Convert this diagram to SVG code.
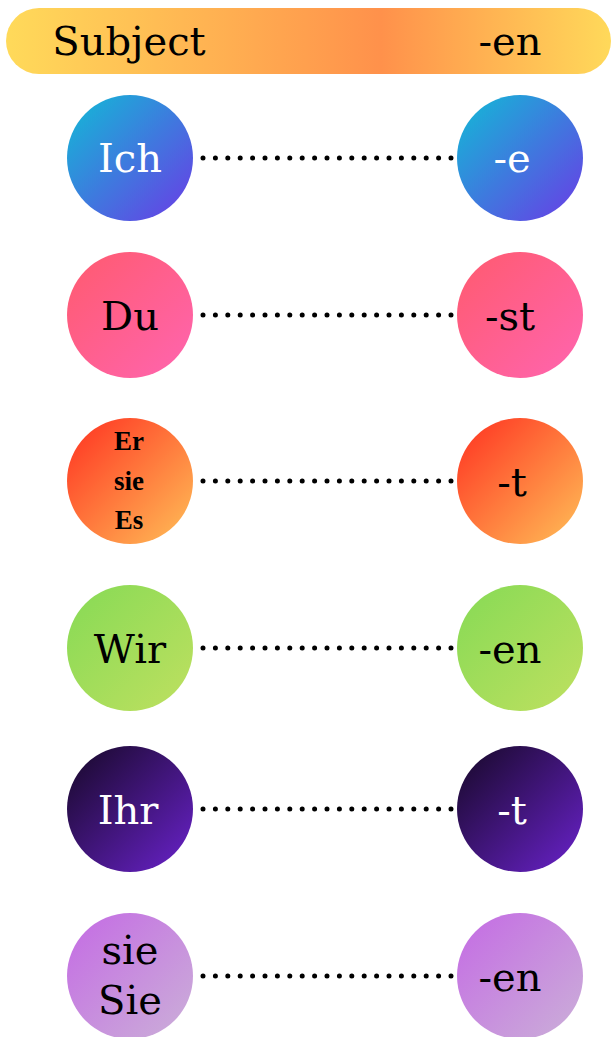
<svg xmlns="http://www.w3.org/2000/svg" width="611" height="1037" viewBox="0 0 611 1037">
<defs>
<linearGradient id="gb" x1="0" y1="0" x2="1" y2="0"><stop offset="0" stop-color="#FFDA5A"/><stop offset="0.62" stop-color="#FF914B"/><stop offset="1" stop-color="#FFD95A"/></linearGradient>
<linearGradient id="g1" x1="0" y1="0" x2="1" y2="1"><stop offset="0" stop-color="#10BCD6"/><stop offset="1" stop-color="#6B3AE6"/></linearGradient>
<linearGradient id="g2" x1="0" y1="0" x2="1" y2="1"><stop offset="0" stop-color="#FF5A6E"/><stop offset="1" stop-color="#FF65B0"/></linearGradient>
<linearGradient id="g3" x1="0" y1="0" x2="1" y2="1"><stop offset="0" stop-color="#FF3020"/><stop offset="1" stop-color="#FFC058"/></linearGradient>
<linearGradient id="g4" x1="0" y1="0" x2="1" y2="1"><stop offset="0" stop-color="#86DA55"/><stop offset="1" stop-color="#BFE060"/></linearGradient>
<linearGradient id="g5" x1="0" y1="0" x2="1" y2="1"><stop offset="0" stop-color="#160826"/><stop offset="1" stop-color="#6A22CC"/></linearGradient>
<linearGradient id="g6" x1="0" y1="0" x2="1" y2="1"><stop offset="0" stop-color="#C46AE4"/><stop offset="1" stop-color="#CBB0D8"/></linearGradient>
</defs>
<style>
.t{font-family:"DejaVu Serif","Liberation Serif",serif;text-anchor:middle;font-size:40px}
.w{fill:#fff}
.k{fill:#000}
.b{font-family:"Liberation Serif",serif;font-weight:bold;font-size:27px;text-anchor:middle}
.d{stroke:#000;stroke-width:5;stroke-linecap:round;stroke-dasharray:0 12.4;fill:none}
</style>
<rect width="611" height="1037" fill="#fff"/>
<g id="header">
<rect x="6" y="8" width="605" height="66" rx="33" fill="url(#gb)"/>
<text class="t" x="129" y="55">Subject</text>
<text class="t" x="510" y="55">-en</text>
</g>
<g id="connectors">
<line class="d" x1="203" y1="158" x2="452" y2="158"/>
<line class="d" x1="203" y1="315" x2="452" y2="315"/>
<line class="d" x1="203" y1="481" x2="452" y2="481"/>
<line class="d" x1="203" y1="648" x2="452" y2="648"/>
<line class="d" x1="203" y1="809" x2="452" y2="809"/>
<line class="d" x1="203" y1="976" x2="452" y2="976"/>
</g>
<g id="ich"><circle cx="130" cy="158" r="63" fill="url(#g1)"/><text class="t w" x="130" y="172">Ich</text></g>
<g id="e"><circle cx="520" cy="158" r="63" fill="url(#g1)"/><text class="t w" x="512" y="172">-e</text></g>
<g id="du"><circle cx="130" cy="315" r="63" fill="url(#g2)"/><text class="t k" x="130" y="330">Du</text></g>
<g id="st"><circle cx="520" cy="315" r="63" fill="url(#g2)"/><text class="t k" x="510" y="330">-st</text></g>
<g id="er"><circle cx="130" cy="481" r="63" fill="url(#g3)"/><text class="b" x="129" y="450">Er</text><text class="b" x="129" y="490">sie</text><text class="b" x="129" y="529">Es</text></g>
<g id="t1"><circle cx="520" cy="481" r="63" fill="url(#g3)"/><text class="t k" x="512" y="496">-t</text></g>
<g id="wir"><circle cx="130" cy="648" r="63" fill="url(#g4)"/><text class="t k" x="130" y="663">Wir</text></g>
<g id="en1"><circle cx="520" cy="648" r="63" fill="url(#g4)"/><text class="t k" x="510" y="663">-en</text></g>
<g id="ihr"><circle cx="130" cy="809" r="63" fill="url(#g5)"/><text class="t w" x="128" y="824">Ihr</text></g>
<g id="t2"><circle cx="520" cy="809" r="63" fill="url(#g5)"/><text class="t w" x="512" y="824">-t</text></g>
<g id="sie"><circle cx="130" cy="976" r="63" fill="url(#g6)"/><text class="t k" x="130" y="964" font-size="35">sie</text><text class="t k" x="130" y="1014" font-size="35">Sie</text></g>
<g id="en2"><circle cx="520" cy="976" r="63" fill="url(#g6)"/><text class="t k" x="510" y="991">-en</text></g>
</svg>
